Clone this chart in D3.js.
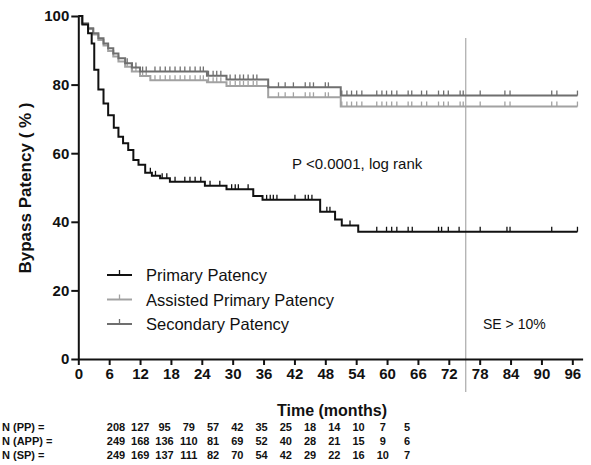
<!DOCTYPE html>
<html>
<head>
<meta charset="utf-8">
<script src="https://cdn.jsdelivr.net/npm/d3@7"></script>
<style>
  body { margin: 0; background: #fff; }
  svg { display: block; font-family: "Liberation Sans", Arial, sans-serif; }
</style>
</head>
<body>
<svg id="chart" width="591" height="465"></svg>
<script>
// Kaplan-Meier steps: [month, % patent]
var ppSteps = [[0,100],[0.8,97.5],[1.9,95],[2.6,92],[3.1,84.3],[3.9,78.6],[4.9,74.5],[5.8,71.1],[6.9,67.4],[7.8,64.8],
  [8.7,62.9],[9.7,60.9],[10.7,58],[11.7,56.6],[13,54.3],[14.3,53.4],[15.9,52.7],[17.8,51.7],[24.6,50.5],[28.8,49.5],
  [34,47.5],[35.8,46.4],[47,42.9],[49.9,40.7],[51.2,38.9],[54.4,37.1]];
var appSteps = [[0,100],[0.7,97.8],[1.9,96.2],[2.9,94.6],[3.9,93],[4.9,91.4],[5.8,89.8],[6.8,88.2],[7.8,86.7],[9.1,85.2],
  [10.4,83.8],[12,82.5],[14,81.3],[25,80.7],[28.8,79.6],[36.9,76.3],[51,73.6]];
var spSteps = [[0,100],[0.7,97.8],[1.9,96.4],[2.9,95],[3.9,93.5],[4.9,92],[5.8,90.6],[6.8,89.1],[7.8,87.7],[9.1,86.2],
  [10.4,85],[12,83.8],[25,82.6],[28.8,81.5],[36.9,79.2],[51,76.8]];
var lastMonth = 97;

// censored observations (months)
var ppCensor = [14,15,16.3,17.2,18.8,20.7,21.7,22.7,23.8,25.6,27.5,29.8,30.5,31.1,33,36.6,37.3,37.9,38.6,42.1,44.1,44.7,45.4,
  48.3,48.9,52.8,58,59.9,60.9,61.9,64.1,64.9,70,70.6,71.9,74,78.1,83.3,83.9,92,97];
var appCensor = [9.5,10.5,11.2,12.5,13.2,14.9,15.9,16.9,17.8,18.8,19.8,20.7,21.7,22.7,23.7,24.3,25.3,26.2,26.9,27.7,29.5,30.5,
  31.4,32.1,33,34,34.7,38.9,40.2,41.8,44.1,45,45.7,48,48.6,51.2,52.2,53.1,54.1,55.1,58,59,59.9,60.9,61.9,64.1,64.8,66.7,67.7,
  70,71,71.9,74.2,74.8,78.1,82.9,83.9,92,93,97];
var spCensor = [9.5,10.5,11.2,12.5,13.2,14.9,15.9,16.9,17.8,18.8,19.8,20.7,21.7,22.7,23.7,24.3,25.3,26.2,26.9,27.7,29.5,30.5,
  31.4,32.1,33,34,34.7,38.9,40.2,41.8,44.1,45,45.7,48,48.6,51.2,52.2,53.1,54.1,55.1,58,59,59.9,60.9,61.9,64.1,64.8,66.7,67.7,
  70,71,71.9,74.2,74.8,78.1,82.9,83.9,92,93,97];

var xTicks = [0,6,12,18,24,30,36,42,48,54,60,66,72,78,84,90,96];
var yTicks = [0,20,40,60,80,100];
var seCutoff = 75.3;

// numbers at risk
var nMonths = [0,6,12,18,24,30,36,42,48,54,60,66,72];
var nPP  = [208,127,95,79,57,42,35,25,18,14,10,7,5];
var nAPP = [249,168,136,110,81,69,52,40,28,21,15,9,6];
var nSP  = [249,169,137,111,82,70,54,42,29,22,16,10,7];

var series = [
  {name: "Assisted Primary Patency", steps: appSteps, censor: appCensor, color: "#a2a2a2"},
  {name: "Secondary Patency", steps: spSteps, censor: spCensor, color: "#6f6f6f"},
  {name: "Primary Patency", steps: ppSteps, censor: ppCensor, color: "#111"}
];

var svg = d3.select("#chart");
var x = d3.scaleLinear().domain([0, 98]).range([78.3, 582.6]);
var y = d3.scaleLinear().domain([0, 100]).range([359, 16]);

// SE > 10% marker
svg.append("line")
  .attr("x1", x(seCutoff)).attr("x2", x(seCutoff))
  .attr("y1", 38).attr("y2", 392)
  .attr("stroke", "#999").attr("stroke-width", 1);

var line = d3.line()
  .x(function(d) { return x(d[0]); })
  .y(function(d) { return y(d[1]); })
  .curve(d3.curveStepAfter);

var bis = d3.bisector(function(d) { return d[0]; }).right;

series.forEach(function(s) {
  var pts = s.steps.concat([[lastMonth, s.steps[s.steps.length - 1][1]]]);
  svg.append("path")
    .attr("d", line(pts))
    .attr("fill", "none")
    .attr("stroke", s.color)
    .attr("stroke-width", 2);

  svg.append("g").selectAll("line")
    .data(s.censor)
    .enter().append("line")
    .attr("x1", function(t) { return x(t); })
    .attr("x2", function(t) { return x(t); })
    .attr("y1", function(t) { return y(s.steps[bis(s.steps, t) - 1][1]); })
    .attr("y2", function(t) { return y(s.steps[bis(s.steps, t) - 1][1]) - 5; })
    .attr("stroke", s.color)
    .attr("stroke-width", 1.3);
});

// axes
var yAxis = svg.append("g")
  .attr("transform", "translate(" + x(0) + ",0)")
  .call(d3.axisLeft(y).tickValues(yTicks).tickSize(7).tickPadding(2).tickSizeOuter(0));
var xAxis = svg.append("g")
  .attr("transform", "translate(0," + y(0) + ")")
  .call(d3.axisBottom(x).tickValues(xTicks).tickSize(6).tickPadding(3).tickSizeOuter(0));

[yAxis, xAxis].forEach(function(a) {
  a.select(".domain").attr("stroke", "#111").attr("stroke-width", 2);
  a.selectAll(".tick line").attr("stroke", "#111").attr("stroke-width", 2);
  a.selectAll(".tick text")
    .attr("fill", "#111")
    .style("font-family", "'Liberation Sans', Arial, sans-serif")
    .style("font-size", "15px")
    .style("font-weight", "bold");
});

svg.append("text")
  .attr("transform", "translate(31,188) rotate(-90)")
  .attr("text-anchor", "middle")
  .style("font-size", "17px").style("font-weight", "bold").attr("fill", "#111")
  .text("Bypass Patency ( % )");

svg.append("text")
  .attr("x", 332).attr("y", 416)
  .attr("text-anchor", "middle")
  .style("font-size", "16px").style("font-weight", "bold").attr("fill", "#111")
  .text("Time (months)");

svg.append("text")
  .attr("x", 292).attr("y", 169)
  .style("font-size", "15px").attr("fill", "#111")
  .text("P <0.0001, log rank");

svg.append("text")
  .attr("x", 483).attr("y", 329)
  .style("font-size", "14px").attr("fill", "#111")
  .text("SE > 10%");

// legend
var legendOrder = [series[2], series[0], series[1]];
var leg = svg.append("g").selectAll("g")
  .data(legendOrder)
  .enter().append("g")
  .attr("transform", function(d, i) { return "translate(107," + (275 + i * 24.5) + ")"; });
leg.append("line")
  .attr("x1", 0).attr("x2", 25).attr("y1", 0).attr("y2", 0)
  .attr("stroke", function(d) { return d.color; }).attr("stroke-width", 2);
leg.append("line")
  .attr("x1", 12.5).attr("x2", 12.5).attr("y1", 0).attr("y2", -5)
  .attr("stroke", function(d) { return d.color; }).attr("stroke-width", 1.3);
leg.append("text")
  .attr("x", 39).attr("y", 6)
  .style("font-size", "16.5px").attr("fill", "#111")
  .text(function(d) { return d.name; });

// numbers at risk table
var col = d3.scaleLinear().domain([0, 72]).range([116, 407]);
var rows = [
  {label: "N (PP) =", values: nPP},
  {label: "N (APP) =", values: nAPP},
  {label: "N (SP) =", values: nSP}
];
var tbl = svg.append("g")
  .style("font-family", "'Liberation Sans Narrow', 'Arial Narrow', sans-serif")
  .style("font-size", "11px").style("font-weight", "bold").attr("fill", "#111");
rows.forEach(function(r, i) {
  var yy = 431 + i * 14;
  tbl.append("text").attr("x", 2).attr("y", yy).text(r.label);
  tbl.selectAll(null)
    .data(r.values)
    .enter().append("text")
    .attr("x", function(d, j) { return col(nMonths[j]); })
    .attr("y", yy)
    .attr("text-anchor", "middle")
    .text(function(d) { return d; });
});
</script>
</body>
</html>
